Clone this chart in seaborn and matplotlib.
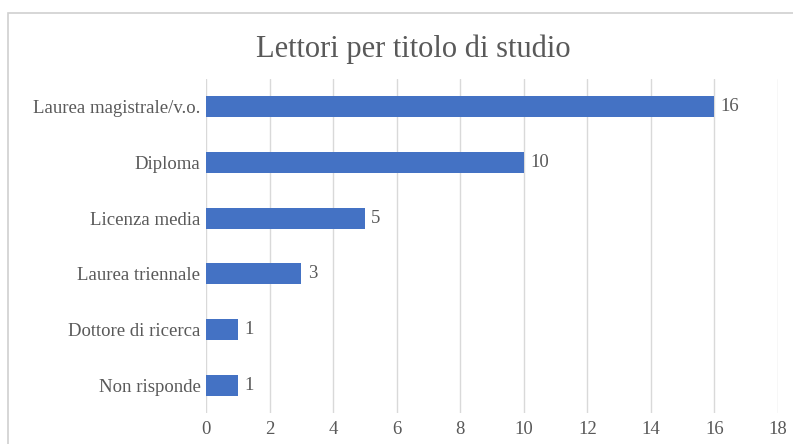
import matplotlib
matplotlib.use("Agg")
import matplotlib.pyplot as plt
import seaborn as sns
import pandas as pd
from matplotlib.patches import Rectangle

categories = ["Laurea magistrale/v.o.", "Diploma", "Licenza media",
              "Laurea triennale", "Dottore di ricerca", "Non risponde"]
values = [16, 10, 5, 3, 1, 1]
x_ticks = [0, 2, 4, 6, 8, 10, 12, 14, 16, 18]
title = "Lettori per titolo di studio"

sns.set_theme(style="white")
plt.rcParams['font.family'] = ['Liberation Serif', 'DejaVu Serif']

df = pd.DataFrame({"cat": categories, "val": values})
W, H = 793, 444
fig = plt.figure(figsize=(W / 100, H / 100), dpi=100)
ax = fig.add_axes([206 / W, 1 - 413 / H, 572 / W, 334 / H])

sns.barplot(data=df, x="val", y="cat", orient="h", color="#4472C4",
            saturation=1, width=0.38, linewidth=0, ax=ax)

ax.set_xlim(0, 18)
ax.set_ylim(5.5, -0.5)
ax.set_xticks(x_ticks)
ax.set_xticklabels([str(t) for t in x_ticks])
ax.grid(axis="x", color="#D9D9D9", linewidth=1)
ax.set_axisbelow(True)
for s in ax.spines.values():
    s.set_visible(False)
ax.set_xlabel("")
ax.set_ylabel("")
ax.tick_params(axis="both", length=0, labelsize=13.5, colors="#595959")
ax.tick_params(axis="y", pad=4)
ax.tick_params(axis="x", pad=6)

for i, v in enumerate(values):
    ax.text(v + 0.2, i, str(v), va="center", ha="left", fontsize=13.5,
            color="#595959")

fig.text(413 / W, 1 - 49 / H, title, ha="center", va="center",
         fontsize=22, color="#595959")

fig.patches.append(Rectangle((8 / W, -0.01), 1.0, 1 - 13 / H + 0.01,
                             transform=fig.transFigure, fill=False,
                             edgecolor="#D0D0D0", linewidth=1.2))

fig.savefig("out.png", dpi=100, facecolor="white")
